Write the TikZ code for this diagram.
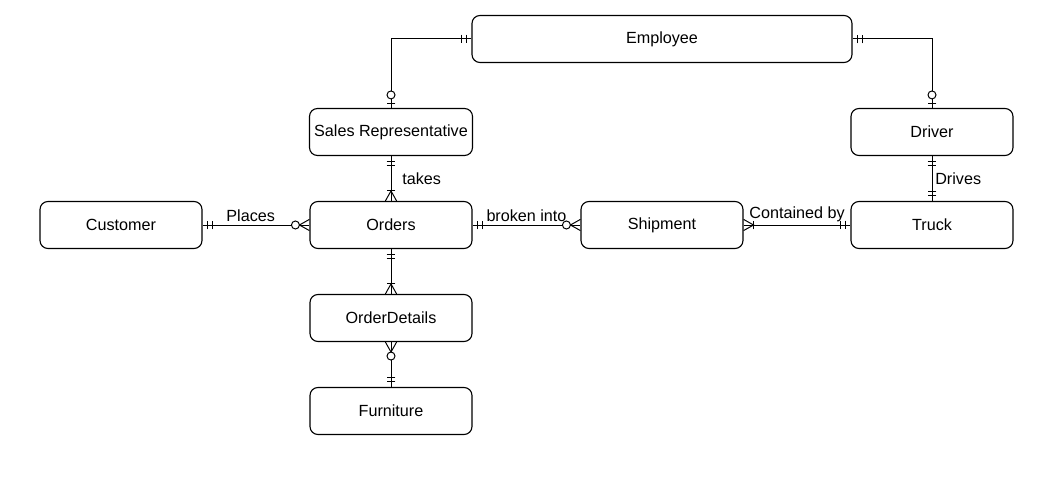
\documentclass[tikz,border=0pt]{standalone}
\usepackage{fontspec}
\setmainfont{Liberation Sans}

\tikzset{
  entity/.style={draw, rounded corners=0.2cm, minimum width=4.05cm,
    minimum height=1.175cm, line width=0.8pt, font=\fontsize{11.5}{14}\selectfont},
  rel/.style={line width=0.7pt},
  lbl/.style={font=\fontsize{11.5}{14}\selectfont, inner sep=2pt},
  % end markers, x axis points away from the entity
  pics/onlyone/.style={code={
    \draw[rel] (0.13,-0.11) -- (0.13,0.11);
    \draw[rel] (0.24,-0.11) -- (0.24,0.11);}},
  pics/zeroorone/.style={code={
    \draw[rel] (0.1,-0.11) -- (0.1,0.11);
    \draw[rel,fill=white] (0.325,0) circle (0.1);}},
  pics/oneormany/.style={code={
    \draw[rel] (0,0.14) -- (0.25,0) -- (0,-0.14);
    \draw[rel] (0.25,-0.11) -- (0.25,0.11);}},
  pics/zeroormany/.style={code={
    \draw[rel] (0,0.14) -- (0.25,0) -- (0,-0.14);
    \draw[rel,fill=white] (0.35,0) circle (0.1);}},
}

\begin{document}
\begin{tikzpicture}
  \useasboundingbox (0,0) rectangle (26.4,12.1);
  % entities
  \node[entity, minimum width=9.5cm] (emp) at (16.55,11.125) {Employee};
  \node[entity] (srep) at (9.775,8.8) {Sales Representative};
  \node[entity] (drv) at (23.3,8.8) {Driver};
  \node[entity] (cust) at (3.025,6.475) {Customer};
  \node[entity] (ord) at (9.775,6.475) {Orders};
  \node[entity] (ship) at (16.55,6.475) {Shipment};
  \node[entity] (trk) at (23.3,6.475) {Truck};
  \node[entity] (odet) at (9.775,4.15) {OrderDetails};
  \node[entity] (furn) at (9.775,1.825) {Furniture};
  % relationships
  \draw[rel] (emp.west) -| (srep.north);
  \draw[rel] (emp.east) -| (drv.north);
  \draw[rel] (srep.south) -- node[lbl, right=0.2cm] {takes} (ord.north);
  \draw[rel] (cust.east) -- node[lbl, above, pos=0.45] {Places} (ord.west);
  \draw[rel] (ord.east) -- node[lbl, above] {broken into} (ship.west);
  \draw[rel] (ship.east) -- node[lbl, above] {Contained by} (trk.west);
  \draw[rel] (drv.south) -- node[lbl, right] {Drives} (trk.north);
  \draw[rel] (ord.south) -- (odet.north);
  \draw[rel] (odet.south) -- (furn.north);
  % cardinalities
  \pic[rotate=180] at (emp.west) {onlyone};
  \pic[rotate=90] at (srep.north) {zeroorone};
  \pic at (emp.east) {onlyone};
  \pic[rotate=90] at (drv.north) {zeroorone};
  \pic[rotate=-90] at (srep.south) {onlyone};
  \pic[rotate=90] at (ord.north) {oneormany};
  \pic at (cust.east) {onlyone};
  \pic[rotate=180] at (ord.west) {zeroormany};
  \pic at (ord.east) {onlyone};
  \pic[rotate=180] at (ship.west) {zeroormany};
  \pic at (ship.east) {oneormany};
  \pic[rotate=180] at (trk.west) {onlyone};
  \pic[rotate=-90] at (drv.south) {onlyone};
  \pic[rotate=90] at (trk.north) {onlyone};
  \pic[rotate=-90] at (ord.south) {onlyone};
  \pic[rotate=90] at (odet.north) {oneormany};
  \pic[rotate=-90] at (odet.south) {zeroormany};
  \pic[rotate=90] at (furn.north) {onlyone};
\end{tikzpicture}
\end{document}
